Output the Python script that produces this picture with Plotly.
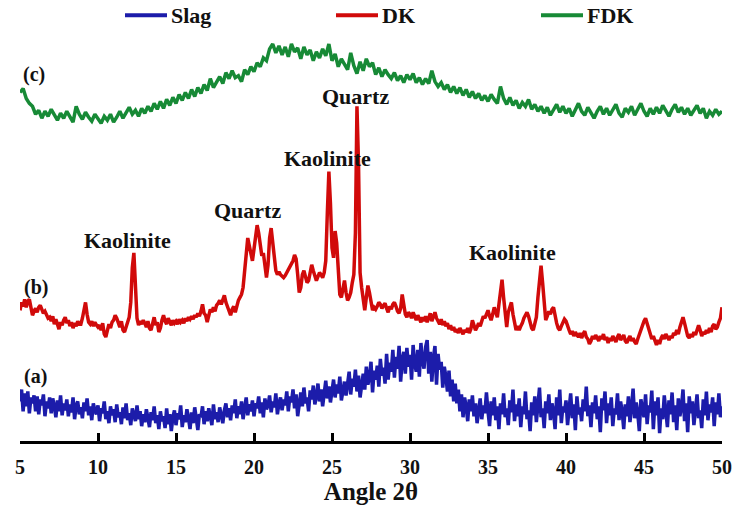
import numpy as np
import plotly.graph_objects as go

# 2-theta grids
two_theta_fine = np.round(np.arange(5.0, 50.0001, 0.1), 1)    # Slag, DK
two_theta_coarse = np.round(np.arange(5.0, 50.0001, 0.2), 1)  # FDK

fdk = [
    352, 356, 346, 341, 338,
    330, 334, 326, 333, 328,
    335, 329, 324, 331, 326,
    333, 327, 322, 338, 330,
    325, 332, 327, 323, 330,
    326, 321, 328, 324, 330,
    322, 327, 333, 326, 331,
    337, 330, 334, 328, 336,
    331, 338, 333, 341, 335,
    343, 336, 345, 339, 347,
    341, 350, 344, 352, 346,
    355, 348, 357, 351, 360,
    354, 366, 357, 362, 368,
    361, 372, 366, 374, 367,
    369, 363, 375, 370, 378,
    373, 382, 378, 387, 384,
    396, 401, 392, 399, 390,
    398, 388, 401, 393, 397,
    386, 398, 390, 395, 384,
    393, 387, 396, 389, 401,
    384, 391, 378, 386, 380,
    375, 392, 379, 371, 383,
    374, 386, 378, 382, 370,
    377, 368, 375, 370, 366,
    372, 364, 369, 362, 370,
    365, 371, 362, 367, 360,
    366, 361, 374, 363, 358,
    362, 355, 360, 352, 358,
    351, 357, 349, 355, 347,
    353, 346, 351, 344, 349,
    343, 350, 345, 341, 358,
    346, 340, 347, 339, 344,
    336, 342, 338, 345, 335,
    340, 333, 338, 331, 337,
    329, 335, 340, 332, 338,
    331, 336, 328, 334, 341,
    333, 329, 337, 331, 326,
    333, 338, 330, 336, 329,
    335, 340, 331, 327, 336,
    332, 338, 329, 335, 341,
    333, 328, 336, 330, 337,
    331, 339, 334, 328, 335,
    340, 332, 337, 330, 336,
    329, 334, 339, 331, 336,
    326, 333, 329, 335, 330,
    333,
]

dk = [
    132, 140, 136, 143, 135, 141, 143, 133, 127, 131,
    134, 130, 135, 137, 133, 129, 131, 127, 124, 125,
    121, 126, 118, 123, 116, 113, 120, 117, 122, 125,
    119, 122, 116, 120, 114, 119, 116, 121, 118, 118,
    124, 132, 140, 128, 120, 118, 121, 116, 120, 117,
    115, 117, 112, 119, 108, 105, 112, 118, 114, 120,
    122, 127, 124, 119, 115, 121, 112, 110, 116, 122,
    125, 140, 175, 190, 160, 124, 117, 121, 118, 122,
    119, 115, 121, 114, 112, 118, 125, 117, 120, 110,
    114, 122, 127, 121, 118, 124, 120, 117, 122, 119,
    121, 118, 123, 120, 122, 119, 124, 121, 125, 123,
    126, 123, 127, 125, 129, 126, 131, 138, 129, 127,
    120, 128, 133, 130, 135, 131, 137, 139, 142, 138,
    144, 147, 140, 135, 130, 127, 133, 136, 130, 138,
    142, 145, 148, 155, 172, 195, 205, 197, 188, 182,
    194, 208, 218, 210, 195, 187, 190, 180, 165, 178,
    205, 215, 200, 180, 172, 168, 171, 168, 166, 165,
    167, 170, 172, 175, 178, 182, 188, 184, 168, 150,
    155, 168, 172, 165, 160, 162, 170, 178, 172, 165,
    162, 166, 170, 168, 165, 170, 182, 230, 272, 240,
    195, 185, 212, 200, 175, 148, 145, 155, 162, 150,
    142, 145, 150, 160, 168, 210, 338, 280, 170, 155,
    140, 132, 145, 157, 150, 140, 132, 135, 133, 136,
    140, 138, 134, 137, 139, 134, 130, 136, 133, 138,
    140, 136, 131, 129, 134, 148, 138, 128, 125, 130,
    128, 124, 130, 126, 122, 127, 123, 120, 125, 121,
    126, 120, 124, 129, 121, 127, 130, 124, 120, 118,
    123, 117, 121, 116, 119, 113, 117, 112, 115, 110,
    113, 109, 114, 111, 108, 112, 110, 114, 109, 113,
    122, 117, 112, 115, 119, 116, 121, 126, 124, 128,
    132, 126, 122, 128, 135, 130, 125, 138, 150, 163,
    145, 125, 115, 130, 136, 140, 128, 120, 112, 116,
    112, 116, 119, 124, 128, 130, 126, 118, 114, 112,
    118, 125, 145, 165, 177, 160, 135, 122, 126, 131,
    128, 133, 135, 126, 119, 114, 112, 116, 120, 123,
    121, 115, 112, 108, 111, 106, 110, 107, 105, 109,
    104, 108, 111, 105, 103, 98, 101, 106, 103, 107,
    104, 101, 106, 103, 108, 102, 105, 99, 104, 101,
    106, 103, 100, 105, 108, 102, 104, 107, 101, 99,
    103, 106, 101, 104, 100, 98, 103, 108, 112, 117,
    121, 124, 119, 114, 108, 103, 106, 101, 97, 102,
    98, 104, 107, 103, 108, 105, 102, 106, 104, 109,
    107, 112, 108, 115, 122, 125, 119, 111, 106, 104,
    108, 105, 110, 107, 113, 117, 112, 106, 110, 108,
    112, 109, 114, 110, 116, 118, 113, 115, 120, 124,
    135,
]

slag = [
    40, 52, 30, 48, 35, 50, 28, 44, 38, 46,
    30, 45, 27, 42, 36, 47, 25, 40, 33, 44,
    28, 43, 35, 24, 41, 30, 46, 26, 38, 31,
    42, 25, 37, 29, 44, 22, 36, 40, 27, 34,
    23, 39, 30, 43, 26, 35, 21, 38, 31, 27,
    36, 20, 33, 28, 40, 22, 30, 18, 35, 26,
    32, 19, 37, 24, 29, 17, 34, 23, 38, 21,
    28, 16, 33, 25, 20, 36, 22, 30, 15, 27,
    19, 32, 24, 14, 29, 21, 35, 18, 26, 12,
    30, 20, 25, 13, 33, 17, 27, 10, 24, 31,
    16, 28, 22, 36, 14, 26, 19, 32, 23, 12,
    29, 18, 34, 21, 11, 27, 24, 35, 17, 30,
    20, 33, 25, 16, 37, 22, 29, 19, 34, 26,
    18, 31, 38, 24, 33, 21, 36, 28, 42, 23,
    35, 27, 40, 22, 31, 44, 26, 37, 30, 41,
    25, 38, 33, 45, 28, 39, 24, 43, 32, 36,
    46, 29, 40, 34, 48, 27, 38, 44, 31, 42,
    36, 50, 30, 45, 39, 52, 33, 47, 25, 41,
    49, 35, 54, 38, 44, 30, 51, 42, 56, 37,
    45, 58, 40, 52, 35, 48, 61, 43, 55, 39,
    50, 62, 44, 57, 48, 65, 41, 53, 60, 46,
    58, 70, 47, 63, 55, 72, 50, 66, 44, 60,
    68, 52, 75, 57, 64, 80, 49, 71, 62, 76,
    55, 83, 66, 74, 58, 88, 62, 79, 70, 92,
    64, 85, 73, 96, 60, 82, 90, 68, 94, 75,
    87, 62, 97, 78, 70, 92, 65, 99, 80, 73,
    95, 102, 68, 90, 60, 84, 96, 57, 88, 72,
    80, 54, 75, 65, 50, 71, 45, 62, 40, 58,
    38, 52, 30, 47, 24, 44, 35, 20, 42, 30,
    46, 25, 38, 18, 34, 43, 22, 36, 28, 49,
    30, 15, 40, 26, 44, 21, 35, 12, 38, 27,
    48, 24, 33, 16, 41, 29, 52, 20, 37, 25,
    43, 14, 35, 27, 50, 22, 31, 10, 39, 26,
    45, 19, 36, 54, 24, 33, 13, 40, 28, 47,
    21, 38, 30, 12, 44, 26, 52, 18, 35, 29,
    41, 16, 33, 48, 23, 37, 11, 45, 27, 34,
    20, 42, 30, 55, 25, 36, 14, 39, 28, 46,
    22, 35, 9, 43, 31, 50, 18, 38, 26, 44,
    15, 33, 27, 48, 21, 40, 30, 12, 37, 25,
    45, 19, 34, 53, 23, 39, 28, 10, 42, 31,
    24, 47, 17, 36, 29, 51, 12, 40, 26, 44,
    8, 33, 22, 46, 30, 14, 41, 27, 49, 19,
    36, 11, 43, 25, 34, 52, 20, 38, 9, 45,
    28, 40, 16, 35, 47, 23, 31, 13, 42, 26,
    50, 21, 37, 29, 44, 15, 39, 27, 48, 24,
    35,
]

series_names = ["Slag", "DK", "FDK"]
series_colors = ["#1c1caa", "#d10a0a", "#178a36"]

peak_labels = ["Kaolinite", "Quartz", "Kaolinite", "Quartz", "Kaolinite"]
peak_label_x = [11.9, 19.6, 24.7, 26.5, 36.6]
peak_label_y = [203, 233, 285, 348, 190]

curve_tags = ["(a)", "(b)", "(c)"]
curve_tag_x = [6.0, 6.0, 5.9]
curve_tag_y = [65, 155, 370]

tick_vals = [5, 10, 15, 20, 25, 30, 35, 40, 45, 50]

FONT = "Liberation Serif"

# plot-area geometry (pixels) used to place the legend key in paper coords
L, R, T, B = 20, 26, 40, 67
W, H = 748, 512
PW, PH = W - L - R, H - T - B
legend_line_px = [(125, 167), (336, 378), (541, 583)]
legend_y_px = 15


def px_to_paper_x(px):
    return (px - L) / PW


def px_to_paper_y(py):
    return (H - B - py) / PH


fig = go.Figure()
fig.add_trace(go.Scatter(x=two_theta_fine, y=slag, mode="lines", name=series_names[0],
                         line=dict(color=series_colors[0], width=3.5)))
fig.add_trace(go.Scatter(x=two_theta_fine, y=dk, mode="lines", name=series_names[1],
                         line=dict(color=series_colors[1], width=3.5)))
fig.add_trace(go.Scatter(x=two_theta_coarse, y=fdk, mode="lines", name=series_names[2],
                         line=dict(color=series_colors[2], width=3.5)))

for t, x, y in zip(peak_labels, peak_label_x, peak_label_y):
    fig.add_annotation(x=x, y=y, text=t, showarrow=False,
                       font=dict(family=FONT, size=22, color="#111", weight="bold"))
for t, x, y in zip(curve_tags, curve_tag_x, curve_tag_y):
    fig.add_annotation(x=x, y=y, text=t, showarrow=False,
                       font=dict(family=FONT, size=20, color="#111", weight="bold"))

# legend key drawn along the top
ly = px_to_paper_y(legend_y_px)
for name, color, (x0, x1) in zip(series_names, series_colors, legend_line_px):
    fig.add_shape(type="line", xref="paper", yref="paper",
                  x0=px_to_paper_x(x0), x1=px_to_paper_x(x1), y0=ly, y1=ly,
                  line=dict(color=color, width=4))
    fig.add_annotation(xref="paper", yref="paper", x=px_to_paper_x(x1 + 2), y=ly,
                       xanchor="left", yanchor="middle", text=name, showarrow=False,
                       font=dict(family=FONT, size=22, color="#111", weight="bold"))

fig.update_layout(
    width=W, height=H,
    margin=dict(l=L, r=R, t=T, b=B),
    plot_bgcolor="white", paper_bgcolor="white",
    showlegend=False,
    xaxis=dict(range=[5, 50], tickvals=tick_vals, ticks="inside", ticklen=8, tickwidth=2.5,
               tickcolor="black", showline=True, linecolor="black", linewidth=3,
               showgrid=False, zeroline=False, ticklabelstandoff=6,
               tickfont=dict(family=FONT, size=20, color="#111", weight="bold"),
               title=dict(text="Angle 2θ", standoff=4,
                          font=dict(family=FONT, size=25, color="#111", weight="bold"))),
    yaxis=dict(range=[0, 405], visible=False, showgrid=False, zeroline=False),
)

fig.write_html("out.html")
